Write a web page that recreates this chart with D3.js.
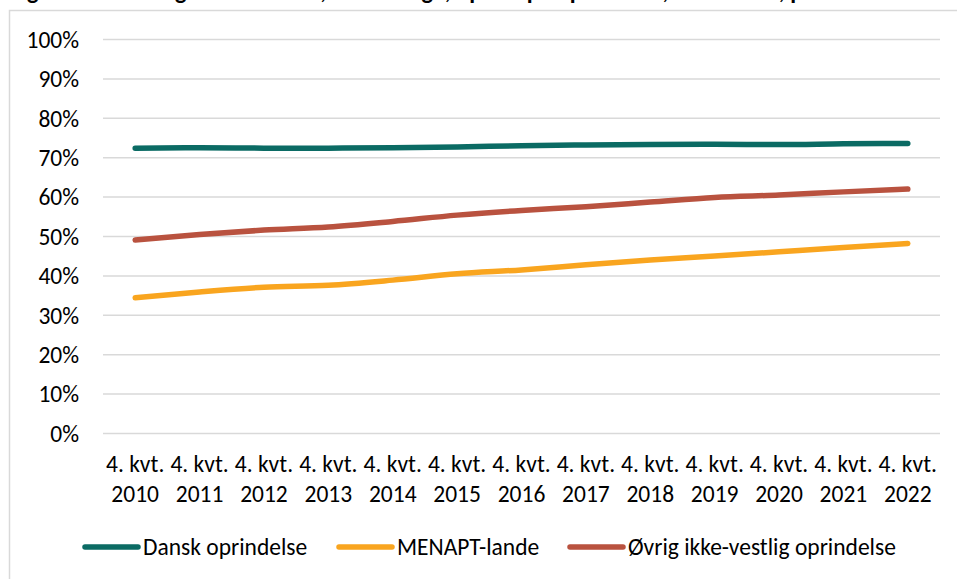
<!DOCTYPE html>
<html>
<head>
<meta charset="utf-8">
<script src="https://cdn.jsdelivr.net/npm/d3@7"></script>
<style>
  html, body { margin: 0; padding: 0; background: #fff; }
  svg { display: block; }
  text { font-family: Carlito, Calibri, Lato, sans-serif; fill: #000; }
</style>
</head>
<body>
<svg id="chart" width="957" height="579"></svg>
<script>
const titleText = "Figur 1. Beskæftigelsesfrekvens, 16-64-årige, opdelt på oprindelse, 2010-2022, pct.";
const categories = ["2010","2011","2012","2013","2014","2015","2016","2017","2018","2019","2020","2021","2022"];
const categoryPrefix = "4. kvt.";
const seriesNames = ["Dansk oprindelse", "MENAPT-lande", "Øvrig ikke-vestlig oprindelse"];
const dansk  = [72.3, 72.4, 72.3, 72.3, 72.4, 72.6, 72.9, 73.1, 73.2, 73.3, 73.2, 73.4, 73.5];
const menapt = [34.3, 35.8, 37.0, 37.5, 38.8, 40.4, 41.4, 42.7, 43.9, 44.9, 46.0, 47.1, 48.1];
const ovrig  = [49.0, 50.4, 51.5, 52.3, 53.7, 55.3, 56.5, 57.4, 58.6, 59.8, 60.4, 61.2, 61.9];
const yTicks = [0, 10, 20, 30, 40, 50, 60, 70, 80, 90, 100];
const colors = ["#0B6B64", "#F9A51F", "#B9523F"];

const series = [dansk, menapt, ovrig];
const svg = d3.select("#chart");
const fs = 23.5;

// title (partially out of view, as in the reference)
svg.append("text").attr("x", 10).attr("y", -1)
  .style("font-weight", "bold").style("font-size", "24px").text(titleText);

// chart frame
svg.append("rect").attr("x", 9.5).attr("y", 10.5).attr("width", 990).attr("height", 620)
  .attr("fill", "none").attr("stroke", "#d9d9d9").attr("stroke-width", 1.5);

const x = d3.scaleBand().domain(categories).range([103, 940]);
const y = d3.scaleLinear().domain([0, 100]).range([433, 39]);

// gridlines + y labels
const yAxis = d3.axisLeft(y).tickValues(yTicks).tickSize(-(940 - 103)).tickFormat(d => d + "%");
const gy = svg.append("g").attr("transform", "translate(103,0)").call(yAxis);
gy.select(".domain").remove();
gy.selectAll(".tick line").attr("stroke", "#d9d9d9").attr("stroke-width", 1.5);
gy.selectAll(".tick text").attr("x", -24).attr("dy", "0.35em")
  .style("font-size", fs + "px").style("font-family", "Carlito, Calibri, Lato, sans-serif").attr("fill", "#000");

// x axis labels
const xAxis = d3.axisBottom(x).tickSize(0).tickFormat("");
const gx = svg.append("g").attr("transform", "translate(0,433)").call(xAxis);
gx.select(".domain").remove();
gx.selectAll(".tick").each(function(d) {
  const t = d3.select(this).append("text").attr("text-anchor", "middle")
    .style("font-size", fs + "px").attr("fill", "#000");
  t.append("tspan").attr("x", 0).attr("y", 39).text(categoryPrefix);
  t.append("tspan").attr("x", 0).attr("y", 69).text(d);
});

// lines
const line = d3.line().x((d, i) => x(categories[i]) + x.bandwidth() / 2).y(d => y(d)).curve(d3.curveMonotoneX);
series.forEach((s, k) => {
  svg.append("path").datum(s).attr("d", line).attr("fill", "none")
    .attr("stroke", colors[k]).attr("stroke-width", 5.5)
    .attr("stroke-linecap", "round").attr("stroke-linejoin", "round");
});

// legend
const legendX = [83, 337, 568];
const legendY = 547;
seriesNames.forEach((name, k) => {
  const g = svg.append("g").attr("transform", `translate(${legendX[k]},${legendY})`);
  g.append("line").attr("x1", 2).attr("x2", 55).attr("y1", 0).attr("y2", 0)
    .attr("stroke", colors[k]).attr("stroke-width", 5.5).attr("stroke-linecap", "round");
  g.append("text").attr("x", 60).attr("y", 0).attr("dy", "0.35em")
    .style("font-size", fs + "px").text(name);
});
</script>
</body>
</html>
